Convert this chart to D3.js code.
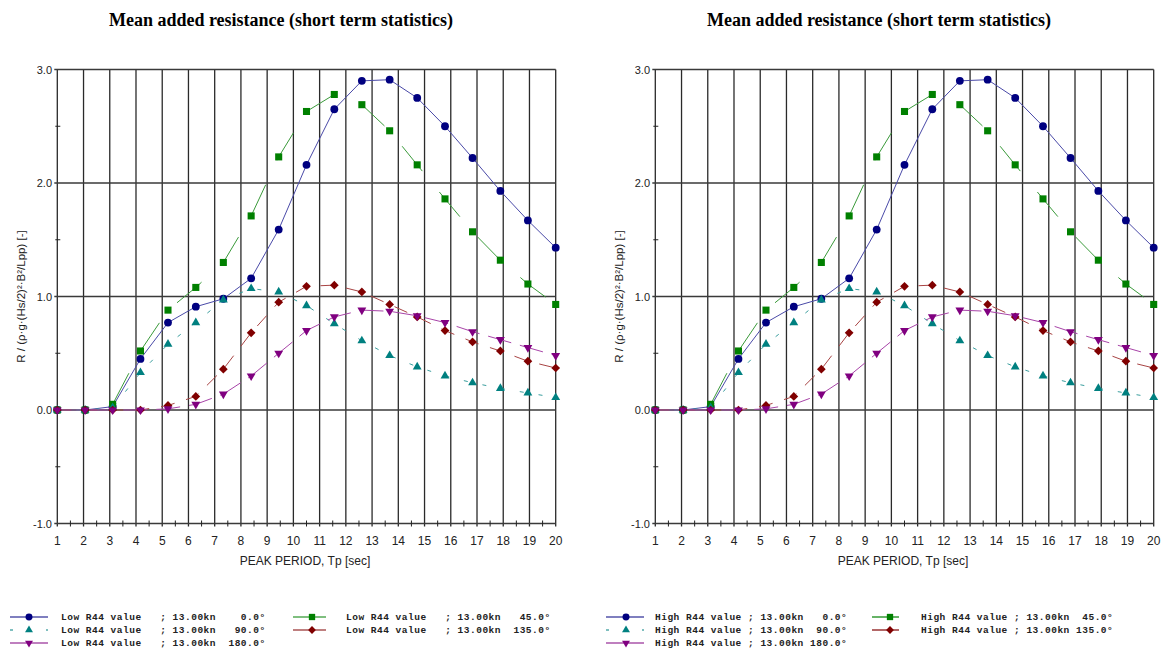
<!DOCTYPE html>
<html>
<head>
<meta charset="utf-8">
<script src="https://cdn.jsdelivr.net/npm/d3@7"></script>
<style>
  body { margin: 0; background: #fff; }
  svg { display: block; }
  .legtxt { font-family: "Liberation Mono", "DejaVu Sans Mono", monospace; font-weight: bold; font-size: 9.5px; white-space: pre; }
</style>
</head>
<body>
<svg width="1162" height="649"></svg>
<script>
// peak periods where the response is given
var periods = [1.00, 2.06, 3.11, 4.17, 5.22, 6.28, 7.33, 8.39, 9.44, 10.50, 11.56, 12.61, 13.67, 14.72, 15.78, 16.83, 17.89, 18.94, 20.00];

// mean added resistance per heading
var head0   = [0, 0, 0.03, 0.45, 0.77, 0.91, 0.98, 1.16, 1.59, 2.16, 2.65, 2.90, 2.91, 2.75, 2.50, 2.22, 1.93, 1.67, 1.43];
var head45  = [0, 0, 0.05, 0.52, 0.88, 1.08, 1.30, 1.71, 2.23, 2.63, 2.78, 2.69, 2.46, 2.16, 1.86, 1.57, 1.32, 1.11, 0.93];
var head90  = [0, 0, 0.02, 0.33, 0.58, 0.77, 0.97, 1.07, 1.04, 0.92, 0.76, 0.61, 0.48, 0.38, 0.30, 0.24, 0.19, 0.15, 0.11];
var head135 = [0, 0, 0, 0, 0.04, 0.12, 0.36, 0.68, 0.95, 1.09, 1.10, 1.04, 0.93, 0.82, 0.70, 0.60, 0.52, 0.43, 0.37];
var head180 = [0, 0, 0, 0, 0.01, 0.05, 0.14, 0.30, 0.50, 0.70, 0.82, 0.88, 0.87, 0.83, 0.77, 0.69, 0.62, 0.55, 0.48];

var headings = [0, 45, 90, 135, 180];
var xTicks = d3.range(1, 21);
var yTicks = [-1, 0, 1, 2, 3];

var chartTitle = "Mean added resistance (short term statistics)";
var xTitle = "PEAK PERIOD, Tp [sec]";
var yTitle = "R / (\u03c1\u00b7g\u00b7(Hs/2)\u00b2\u00b7B\u00b2/Lpp)  [-]";

var series = [
  {vals: head0,   mark: "#000080", line: "#4a4aa8", dash: null,    sym: "circle"},
  {vals: head45,  mark: "#008000", line: "#3a9a3a", dash: "32,27", sym: "square"},
  {vals: head90,  mark: "#008080", line: "#3a9e9e", dash: "4,15",  sym: "tri"},
  {vals: head135, mark: "#800000", line: "#a84444", dash: "14,12", sym: "diamond"},
  {vals: head180, mark: "#800080", line: "#a844a8", dash: "24,9",  sym: "tridown"}
];

var svg = d3.select("svg");

function symPath(kind, big) {
  var s = big ? 1 : 0.8;
  if (kind == "circle") return d3.symbol(d3.symbolCircle, 48 * s)();
  if (kind == "square") return d3.symbol(d3.symbolSquare, 50 * s)();
  if (kind == "diamond") return d3.symbol(d3.symbolSquare, 38 * s)();
  return d3.symbol(d3.symbolTriangle, 34 * s)();
}
function symRot(kind) {
  if (kind == "diamond") return 45;
  if (kind == "tridown") return 180;
  return 0;
}

function fmtAngle(a) {
  var s = a.toFixed(1);
  while (s.length < 6) s = " " + s;
  return s + "\u00b0";
}

function drawChart(ox, prefix, gap, legX) {
  var g = svg.append("g").attr("transform", "translate(" + ox + ",0)");

  var x = d3.scaleLinear().domain([1, 20]).range([57.3, 555.7]);
  var y = d3.scaleLinear().domain([-1, 3]).range([523.5, 69.5]);

  g.append("text")
    .text(chartTitle)
    .attr("x", 281).attr("y", 26)
    .attr("text-anchor", "middle")
    .style("font-family", "'Liberation Serif', 'Times New Roman', serif")
    .style("font-weight", "bold")
    .style("font-size", "18px");

  // grid
  g.selectAll(".vgrid").data(xTicks).enter().append("line")
    .attr("x1", function(d){ return x(d); }).attr("x2", function(d){ return x(d); })
    .attr("y1", y(3)).attr("y2", y(-1) + 3)
    .attr("stroke", "#2a2a2a").attr("stroke-width", 1.3);
  g.selectAll(".hgrid").data(yTicks).enter().append("line")
    .attr("x1", x(1) - 3).attr("x2", x(20))
    .attr("y1", function(d){ return y(d); }).attr("y2", function(d){ return y(d); })
    .attr("stroke", "#3a3a3a").attr("stroke-width", 1.5);

  // minor ticks
  g.selectAll(".xminor").data(d3.range(1.5, 20, 1)).enter().append("line")
    .attr("x1", function(d){ return x(d); }).attr("x2", function(d){ return x(d); })
    .attr("y1", y(-1) - 3).attr("y2", y(-1) + 3)
    .attr("stroke", "#222");
  g.selectAll(".yminor").data([-0.5, 0.5, 1.5, 2.5]).enter().append("line")
    .attr("x1", x(1) - 2).attr("x2", x(1) + 3)
    .attr("y1", function(d){ return y(d); }).attr("y2", function(d){ return y(d); })
    .attr("stroke", "#222");

  // tick labels
  g.selectAll(".xlab").data(xTicks).enter().append("text")
    .text(function(d){ return d; })
    .attr("x", function(d){ return x(d); }).attr("y", 545)
    .attr("text-anchor", "middle")
    .style("font-family", "'Liberation Sans', Arial, sans-serif")
    .style("font-size", "12px").attr("fill", "#222");
  g.selectAll(".ylab").data(yTicks).enter().append("text")
    .text(function(d){ return d.toFixed(1); })
    .attr("x", 52).attr("y", function(d){ return y(d) + 4; })
    .attr("text-anchor", "end")
    .style("font-family", "'Liberation Sans', Arial, sans-serif")
    .style("font-size", "11px").attr("fill", "#222");

  g.append("text").text(xTitle)
    .attr("x", 305).attr("y", 565)
    .attr("text-anchor", "middle")
    .style("font-family", "'Liberation Sans', Arial, sans-serif")
    .style("font-size", "12px").attr("fill", "#222");
  g.append("text").text(yTitle)
    .attr("transform", "translate(25," + ((y(3) + y(-1)) / 2) + ") rotate(-90)")
    .attr("text-anchor", "middle")
    .style("font-family", "'Liberation Sans', Arial, sans-serif")
    .style("font-size", "11.5px").attr("fill", "#222");

  var line = d3.line()
    .x(function(d, i){ return x(periods[i]); })
    .y(function(d){ return y(d); });

  series.forEach(function(s) {
    var p = g.append("path")
      .datum(s.vals)
      .attr("d", line)
      .attr("fill", "none")
      .attr("stroke", s.line)
      .attr("stroke-width", 1);
    if (s.dash) p.attr("stroke-dasharray", s.dash);
  });

  series.forEach(function(s) {
    g.selectAll(null).data(s.vals).enter().append("path")
      .attr("d", symPath(s.sym, true))
      .attr("transform", function(d, i){
        return "translate(" + x(periods[i]) + "," + y(d) + ") rotate(" + symRot(s.sym) + ")";
      })
      .attr("fill", s.mark);
  });

  // legend: 0,45 / 90,135 / 180
  var rows = [617, 630, 643];
  series.forEach(function(s, k) {
    var col = (k == 1 || k == 3) ? 1 : 0;
    var row = k == 4 ? 2 : Math.floor(k / 2);
    var lx = legX[col];
    var ly = rows[row];
    var ln = g.append("line")
      .attr("x1", lx.l0).attr("x2", lx.l1)
      .attr("y1", ly).attr("y2", ly)
      .attr("stroke", s.mark).attr("stroke-width", 1.2);
    if (s.sym == "tri") ln.attr("stroke-dasharray", "3,15");
    g.append("path")
      .attr("d", symPath(s.sym, false))
      .attr("transform", "translate(" + lx.m + "," + ly + ") rotate(" + symRot(s.sym) + ")")
      .attr("fill", s.mark);
    g.append("text")
      .attr("class", "legtxt")
      .text(prefix + "13.00kn" + gap + fmtAngle(headings[k]))
      .attr("x", lx.t).attr("y", ly + 3)
      .style("letter-spacing", "0.5px")
      .attr("fill", "#222");
  });
}

drawChart(0, "Low R44 value   ; ", " ", [
  {l0: 10, l1: 48, m: 29, t: 61},
  {l0: 293, l1: 326, m: 312, t: 346}
]);
drawChart(598, "High R44 value ; ", "", [
  {l0: 8, l1: 46, m: 28, t: 57},
  {l0: 274, l1: 301, m: 292, t: 323}
]);
</script>
</body>
</html>
